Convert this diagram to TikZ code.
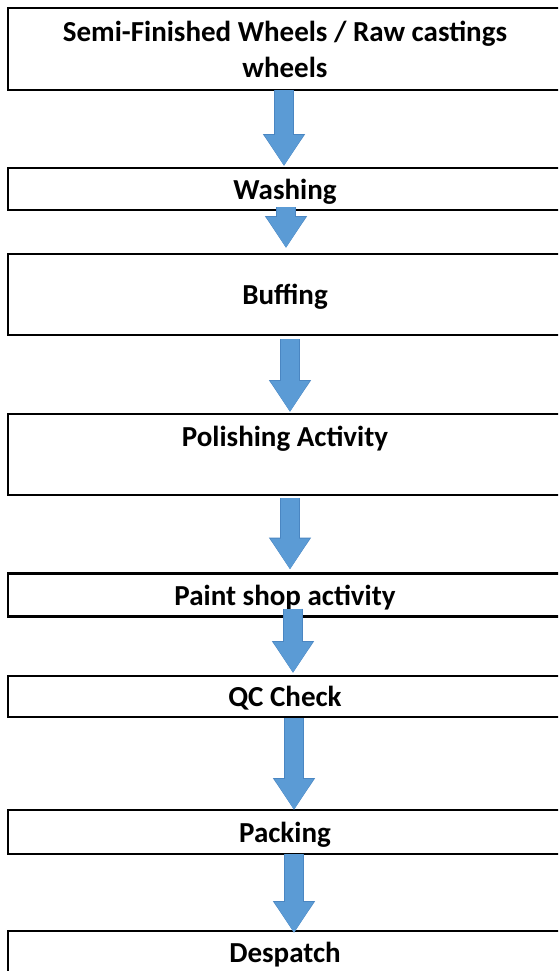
\documentclass[tikz,border=0pt]{standalone}
\usepackage{fontspec}
\setmainfont{Carlito}
\usepackage{tikz}
\usetikzlibrary{arrows.meta, positioning}
\definecolor{arrowblue}{HTML}{5B9BD5}
\definecolor{arrowedge}{HTML}{4A86C2}

\begin{document}
\begin{tikzpicture}[
  x=1pt, y=-1pt,
  box/.style={draw, line width=2.5pt, minimum width=554pt, outer sep=0pt, inner sep=0pt, align=center, font=\fontsize{29}{36}\selectfont\bfseries},
  single/.style={box, text depth=0pt},
  arr/.style={arrowblue, line width=18pt, -{Triangle[width=37pt, length=31pt]},
    preaction={draw=arrowedge, line width=20pt, -{Triangle[width=40pt, length=32pt]}}},
]
\useasboundingbox (0,0) rectangle (558,971);
\clip (0,0) rectangle (558,971);

\node[box, minimum height=82pt] (castings) at (285, 49) {Semi-Finished Wheels / Raw castings\\wheels};
\node[single, minimum height=42pt] (washing) at (285, 189) {Washing};
\node[single, minimum height=81pt] (buffing) at (285, 294.5) {Buffing};
\node[box, minimum height=81pt] (polishing) at (285, 454.5) {Polishing Activity\\~};
\node[single, minimum height=43pt] (paintshop) at (285, 595) {Paint shop activity};
\node[single, minimum height=41pt] (qccheck) at (285, 696.5) {QC Check};
\node[single, minimum height=44pt] (packing) at (285, 832) {Packing};
\node[box, minimum height=48pt] (despatch) at (285, 955) {Despatch};

\draw[arr] ([xshift=-1pt]castings.south) -- ([xshift=-1pt, yshift=2pt]washing.north);
\draw[arr] ([xshift=1pt, yshift=3pt]washing.south) -- ([xshift=1pt, yshift=6pt]buffing.north);
\draw[arr] ([xshift=5pt, yshift=-4pt]buffing.south) -- ([xshift=5pt, yshift=2pt]polishing.north);
\draw[arr] ([xshift=5pt, yshift=-3pt]polishing.south) -- ([xshift=5pt, yshift=4pt]paintshop.north);
\draw[arr] ([xshift=8pt, yshift=8pt]paintshop.south) -- ([xshift=8pt, yshift=3pt]qccheck.north);
\draw[arr] ([xshift=9pt, yshift=-1pt]qccheck.south) -- ([xshift=9pt]packing.north);
\draw[arr] ([xshift=9pt]packing.south) -- ([xshift=9pt, yshift=-2pt]despatch.north);

\end{tikzpicture}
\end{document}
